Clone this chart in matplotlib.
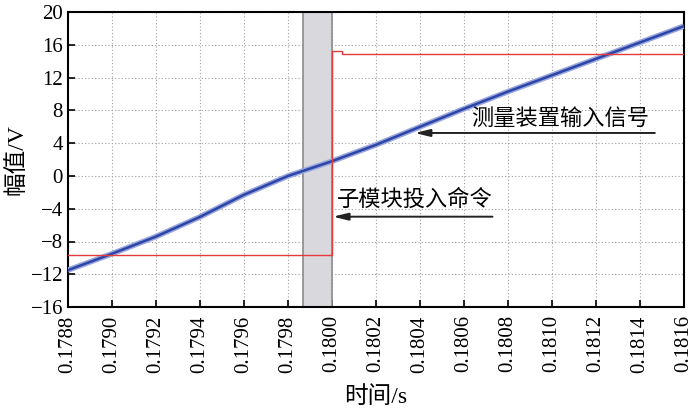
import numpy as np
import matplotlib
matplotlib.use("Agg")
import matplotlib.pyplot as plt

plt.rcParams['font.family'] = ['Liberation Serif', 'Noto Sans CJK SC', 'DejaVu Sans']
plt.rcParams['axes.unicode_minus'] = True

# measured input signal (blue), read at each x tick
t_signal = [0.1788, 0.1790, 0.1792, 0.1794, 0.1796, 0.1798, 0.1800,
            0.1802, 0.1804, 0.1806, 0.1808, 0.1810, 0.1812, 0.1814, 0.1816]
v_signal = [-11.5, -9.5, -7.4, -5.0, -2.3, 0.0, 1.8,
            3.8, 6.0, 8.2, 10.3, 12.3, 14.3, 16.3, 18.3]

# sub-module insert command (red step)
t_cmd = [0.1788, 0.18000, 0.18000, 0.180045, 0.180045, 0.1816]
v_cmd = [-9.7, -9.7, 15.3, 15.3, 14.95, 14.95]

# shaded window
shade_start, shade_end = 0.17987, 0.18000

xticks = [0.1788 + 0.0002 * i for i in range(15)]
xtick_labels = ['%.4f' % v for v in xticks]
yticks = list(range(-16, 21, 4))

fig = plt.figure(figsize=(7, 4.2), dpi=100)
ax = fig.add_axes([0.097, 0.269, 0.880, 0.702])

ax.axvspan(shade_start, shade_end, facecolor='#d9d9dd', edgecolor='#8c8c8c', lw=1.2, zorder=1)

ax.plot(t_signal, v_signal, color='#9aa6dc', lw=4.0, zorder=3, solid_capstyle='butt')
ax.plot(t_signal, v_signal, color='#2b45a8', lw=1.8, zorder=4)
ax.plot(t_cmd, v_cmd, color='#e53a3a', lw=1.0, zorder=5)

ax.set_xlim(0.1788, 0.1816)
ax.set_ylim(-16, 20)
ax.set_xticks(xticks)
ax.set_xticklabels(xtick_labels, rotation=90)
ax.set_yticks(yticks)
ax.tick_params(direction='in', length=5, width=1.2, labelsize=15, top=False, right=False)
ax.tick_params(axis='x', pad=6)
ax.grid(True, color='#a0a0a0', ls=(0, (1, 2)), lw=0.8)
ax.set_axisbelow(True)
for s in ax.spines.values():
    s.set_linewidth(1.5)

ax.set_xlabel('时间/s', fontsize=17, labelpad=10)
ax.set_ylabel('幅值/V', fontsize=17, labelpad=2)

arrow = dict(arrowstyle='-|>,head_length=0.9,head_width=0.22', color='#222222', lw=1.4, shrinkA=0, shrinkB=0)
ax.annotate('', xy=(0.180377, 5.25), xytext=(0.181468, 5.25), arrowprops=arrow, zorder=6)
ax.text(0.181036, 6.9, '测量装置输入信号', fontsize=16, ha='center', va='center', zorder=6)
ax.annotate('', xy=(0.180005, -4.97), xytext=(0.18073, -4.97), arrowprops=arrow, zorder=6)
ax.text(0.180377, -3.0, '子模块投入命令', fontsize=16, ha='center', va='center', zorder=6)

fig.savefig('out.png', dpi=100)
